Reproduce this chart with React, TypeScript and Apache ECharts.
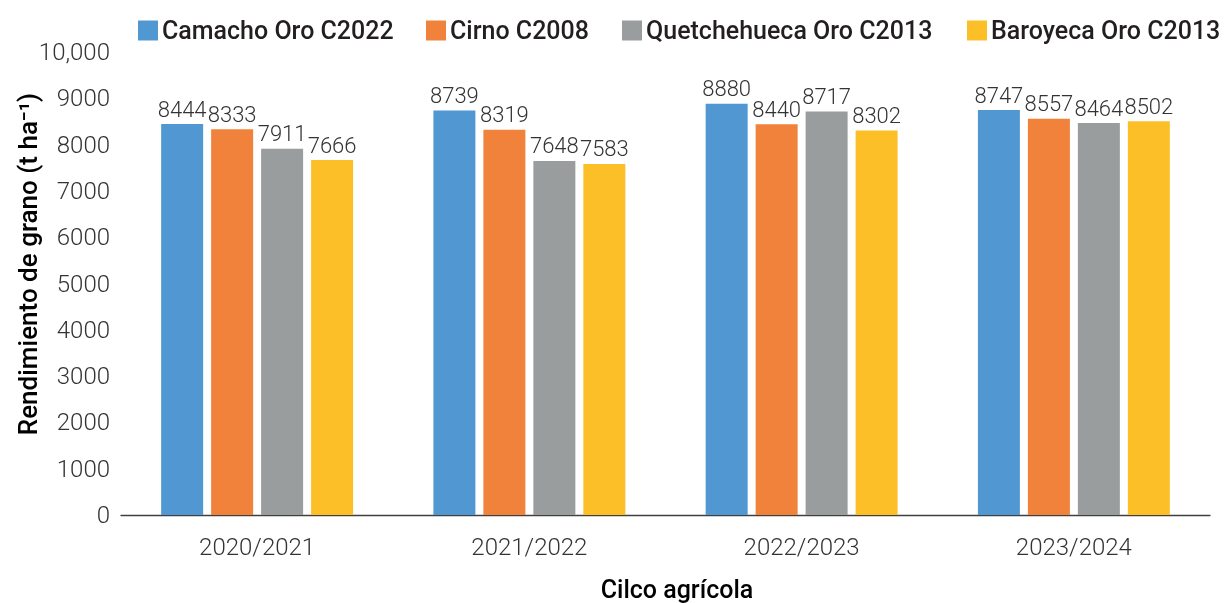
import React, { useEffect, useRef } from "react";
import * as echarts from "echarts";

const categories = ["2020/2021", "2021/2022", "2022/2023", "2023/2024"];
const seriesNames = ["Camacho Oro C2022", "Cirno C2008", "Quetchehueca Oro C2013", "Baroyeca Oro C2013"];
const camacho = [8444, 8739, 8880, 8747];
const cirno = [8333, 8319, 8440, 8557];
const quetchehueca = [7911, 7648, 8717, 8464];
const baroyeca = [7666, 7583, 8302, 8502];
const yTickLabels = ["0", "1000", "2000", "3000", "4000", "5000", "6000", "7000", "8000", "9000", "10,000"];
const colors = ["#5198D3", "#F1823B", "#9A9D9E", "#FDBF28"];
const legendLefts = [133, 421, 617, 962];

export default function App() {
  const ref = useRef<HTMLDivElement>(null);
  useEffect(() => {
    const chart = echarts.init(ref.current!, null, { renderer: "svg" });
    const values = [camacho, cirno, quetchehueca, baroyeca];
    const font = "Roboto, 'Noto Sans', sans-serif";
    chart.setOption({
      animation: false,
      textStyle: { fontFamily: font },
      color: colors,
      legend: seriesNames.map((name, i) => ({
        top: 13,
        left: legendLefts[i],
        itemWidth: 20,
        itemHeight: 20,
        icon: "rect",
        selectedMode: false,
        textStyle: { fontSize: 25, fontWeight: 500, color: "#231F20", padding: [0, 0, 0, -1], fontFamily: font },
        data: [name],
      })),
      grid: { left: 121, right: 20, top: 52, bottom: 88, containLabel: false },
      xAxis: {
        type: "category",
        data: categories,
        axisTick: { show: false },
        axisLine: { lineStyle: { color: "#404040", width: 1.3 } },
        axisLabel: { fontSize: 24, fontWeight: 300, color: "#333333", margin: 20 },
      },
      yAxis: {
        type: "value",
        min: 0,
        max: 10000,
        interval: 1000,
        splitLine: { show: false },
        axisLine: { show: false },
        axisTick: { show: false },
        axisLabel: {
          fontSize: 24,
          fontWeight: 300,
          color: "#333333",
          margin: 11,
          formatter: (v: number) => yTickLabels[Math.round(v / 1000)] ?? String(v),
        },
      },
      graphic: [
        {
          type: "text",
          x: 28,
          y: 264,
          rotation: Math.PI / 2,
          style: {
            text: "Rendimiento de grano (t ha⁻¹)",
            fontSize: 26,
            fontWeight: 500,
            fill: "#000000",
            fontFamily: font,
            align: "center",
            verticalAlign: "middle",
          },
        },
        {
          type: "text",
          x: 677,
          y: 589,
          style: {
            text: "Cilco agrícola",
            fontSize: 25,
            fontWeight: 500,
            fill: "#000000",
            fontFamily: font,
            align: "center",
            verticalAlign: "middle",
          },
        },
      ],
      series: seriesNames.map((name, i) => ({
        name,
        type: "bar",
        data: values[i],
        barWidth: 42,
        barGap: "19%",
        itemStyle: { color: colors[i] },
        label: {
          show: true,
          position: "top",
          distance: 4,
          fontSize: 22,
          fontWeight: 300,
          color: "#333333",
          fontFamily: font,
        },
      })),
    });
    return () => chart.dispose();
  }, []);
  return <div ref={ref} style={{ position: "fixed", left: 0, top: 0, width: 1230, height: 603 }} />;
}
